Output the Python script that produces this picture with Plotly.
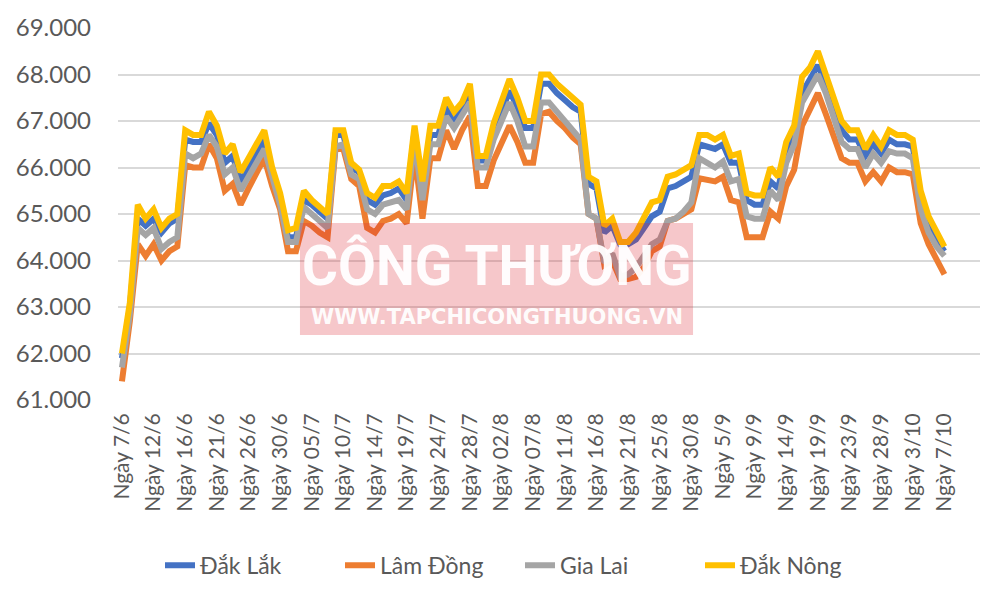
import plotly.graph_objects as go

# Trading days (2023, Sundays and 2/9 excluded)
dates = [
    "7/6", "8/6", "9/6", "10/6", "12/6", "13/6", "14/6", "15/6", "16/6", "17/6",
    "19/6", "20/6", "21/6", "22/6", "23/6", "24/6", "26/6", "27/6", "28/6", "29/6",
    "30/6", "01/7", "03/7", "04/7", "05/7", "06/7", "07/7", "08/7", "10/7", "11/7",
    "12/7", "13/7", "14/7", "15/7", "17/7", "18/7", "19/7", "20/7", "21/7", "22/7",
    "24/7", "25/7", "26/7", "27/7", "28/7", "29/7", "31/7", "01/8", "02/8", "03/8",
    "04/8", "05/8", "07/8", "08/8", "09/8", "10/8", "11/8", "12/8", "14/8", "15/8",
    "16/8", "17/8", "18/8", "19/8", "21/8", "22/8", "23/8", "24/8", "25/8", "26/8",
    "28/8", "29/8", "30/8", "31/8", "1/9", "4/9", "5/9", "6/9", "7/9", "8/9",
    "9/9", "11/9", "12/9", "13/9", "14/9", "15/9", "16/9", "18/9", "19/9", "20/9",
    "21/9", "22/9", "23/9", "25/9", "26/9", "27/9", "28/9", "29/9", "30/9", "2/10",
    "3/10", "4/10", "5/10", "6/10", "7/10",
]
categories = ["Ngày " + d for d in dates]
extra_categories = [" ", "  ", "   ", "    "]  # empty slots at the right of the axis

dak_lak = [
    61.9, 63.0, 64.9, 64.75, 64.9, 64.6, 64.8, 64.9, 66.6, 66.55,
    66.55, 66.95, 66.7, 66.1, 66.25, 65.7, 66.0, 66.3, 66.6, 65.9,
    65.3, 64.5, 64.5, 65.3, 65.2, 65.05, 64.9, 66.7, 66.7, 66.0,
    65.9, 65.3, 65.2, 65.4, 65.45, 65.55, 65.3, 66.8, 65.5, 66.7,
    66.7, 67.3, 67.0, 67.3, 67.65, 66.15, 66.15, 66.75, 67.2, 67.65,
    67.3, 66.85, 66.85, 67.8, 67.8, 67.6, 67.45, 67.3, 67.2, 65.65,
    65.55, 64.6, 64.75, 64.35, 64.35, 64.45, 64.7, 64.95, 65.05, 65.55,
    65.6, 65.7, 65.8, 66.5, 66.45, 66.4, 66.5, 66.1, 66.1, 65.3,
    65.2, 65.2, 65.7, 65.55, 66.4, 66.8, 67.6, 67.9, 68.2, 67.8,
    67.3, 66.8, 66.6, 66.6, 66.25, 66.5, 66.3, 66.6, 66.5, 66.5,
    66.45, 65.35, 64.8, 64.45, 64.2,
]
lam_dong = [
    61.4, 62.7, 64.35, 64.1, 64.35, 64.0, 64.2, 64.3, 66.05, 66.0,
    66.0, 66.5, 66.2, 65.5, 65.65, 65.2, 65.55, 65.9, 66.2, 65.6,
    65.1, 64.2, 64.2, 64.85, 64.75, 64.6, 64.5, 66.4, 66.4, 65.75,
    65.6, 64.7, 64.6, 64.85, 64.9, 65.0, 64.8, 66.3, 64.9, 66.2,
    66.2, 66.8, 66.4, 66.8, 67.1, 65.6, 65.6, 66.15, 66.5, 66.9,
    66.55, 66.1, 66.1, 67.15, 67.2, 67.0, 66.85, 66.65, 66.5, 65.0,
    64.9, 63.9, 64.0, 63.6, 63.6, 63.65, 63.85, 64.2, 64.3, 64.85,
    64.9, 65.0, 65.1, 65.77, 65.75, 65.7, 65.8, 65.3, 65.25, 64.5,
    64.5, 64.5, 65.05, 64.9, 65.6, 65.95, 66.9, 67.25, 67.6, 67.15,
    66.65, 66.2, 66.1, 66.1, 65.7, 65.9, 65.7, 66.0, 65.9, 65.9,
    65.85, 64.8, 64.35, 64.0, 63.7,
]
gia_lai = [
    61.7, 62.85, 64.7, 64.55, 64.7, 64.25, 64.4, 64.5, 66.3, 66.2,
    66.3, 66.7, 66.45, 65.85, 66.0, 65.5, 65.8, 66.1, 66.4, 65.8,
    65.2, 64.4, 64.4, 65.15, 65.0, 64.85, 64.7, 66.45, 66.5, 65.85,
    65.75, 65.1, 65.0, 65.2, 65.25, 65.3, 65.1, 66.6, 65.3, 66.5,
    66.5, 67.1, 66.85, 67.1, 67.4, 66.0, 66.0, 66.6, 67.0, 67.4,
    67.0, 66.45, 66.45, 67.4, 67.4, 67.2, 67.0, 66.8, 66.6, 65.0,
    64.9, 63.95, 64.15, 63.65, 63.7, 63.85, 64.1, 64.35, 64.45, 64.85,
    64.9, 65.05, 65.25, 66.2, 66.1, 66.0, 66.13, 65.7, 65.75, 64.95,
    64.9, 64.9, 65.5, 65.3, 66.1, 66.5, 67.4, 67.7, 68.0, 67.6,
    67.1, 66.55, 66.4, 66.4, 66.0, 66.3, 66.1, 66.35, 66.3, 66.3,
    66.2, 65.1, 64.6, 64.3, 64.1,
]
dak_nong = [
    62.0, 63.1, 65.2, 64.9, 65.1, 64.7, 64.9, 65.0, 66.8, 66.7,
    66.7, 67.2, 66.9, 66.3, 66.5, 65.9, 66.2, 66.5, 66.8, 66.0,
    65.45, 64.65, 64.7, 65.5, 65.3, 65.15, 65.0, 66.8, 66.8, 66.1,
    65.95, 65.45, 65.35, 65.6, 65.6, 65.7, 65.45, 66.9, 65.7, 66.9,
    66.9, 67.5, 67.2, 67.4, 67.8, 66.25, 66.25, 66.95, 67.4, 67.9,
    67.5, 67.0, 67.0, 68.0, 68.0, 67.8, 67.65, 67.5, 67.35, 65.8,
    65.7, 64.75, 64.9, 64.4, 64.4, 64.6, 64.9, 65.25, 65.3, 65.8,
    65.85, 65.95, 66.05, 66.7, 66.7, 66.6, 66.7, 66.25, 66.3, 65.45,
    65.4, 65.4, 66.0, 65.8, 66.55, 66.9, 67.95, 68.15, 68.5, 68.0,
    67.5, 67.0, 66.8, 66.8, 66.4, 66.7, 66.45, 66.8, 66.7, 66.7,
    66.6, 65.5, 64.95, 64.6, 64.3,
]

series_names = ["Đắk Lắk", "Lâm Đồng", "Gia Lai", "Đắk Nông"]
series_values = [dak_lak, lam_dong, gia_lai, dak_nong]
series_colors = ["#4472C4", "#ED7D31", "#A5A5A5", "#FFC000"]

y_ticks = [61000, 62000, 63000, 64000, 65000, 66000, 67000, 68000, 69000]
x_tick_labels = categories[::4]

FONT = "Lato, 'Open Sans', sans-serif"
TXT = "#595959"

fig = go.Figure()
for name, vals, col in zip(series_names, series_values, series_colors):
    fig.add_trace(go.Scatter(
        x=categories,
        y=[v * 1000 for v in vals],
        mode="lines",
        name=name,
        line=dict(color=col, width=6, shape="linear"),
    ))

fig.update_layout(
    width=1000,
    height=592,
    margin=dict(l=118, r=20, t=28, b=192),
    paper_bgcolor="white",
    plot_bgcolor="white",
    separators=",.",
    showlegend=True,
    legend=dict(
        orientation="h",
        xref="container", yref="container",
        x=0.52, xanchor="center",
        y=0.045, yanchor="middle",
        font=dict(family=FONT, size=23, color=TXT),
        entrywidth=135,
        entrywidthmode="pixels",
        traceorder="normal",
    ),
    xaxis=dict(
        type="category",
        categoryorder="array",
        categoryarray=categories + extra_categories,
        range=[-0.5, len(categories) + len(extra_categories) - 0.5],
        tickmode="array",
        tickvals=x_tick_labels,
        ticktext=x_tick_labels,
        tickangle=-90,
        tickfont=dict(family=FONT, size=21, color=TXT),
        showgrid=False,
        showline=False,
        zeroline=False,
        ticks="",
        ticklabelstandoff=8,
    ),
    yaxis=dict(
        range=[61000, 69000],
        tickmode="array",
        tickvals=y_ticks,
        tickformat=",d",
        tickfont=dict(family=FONT, size=24, color=TXT),
        showgrid=True,
        gridcolor="#D9D9D9",
        gridwidth=2,
        zeroline=False,
        showline=False,
        ticks="",
        ticklabelstandoff=26,
    ),
    shapes=[dict(
        type="rect", xref="paper", yref="paper", layer="above",
        x0=0.2111, x1=0.6671, y0=0.1747, y1=0.4758,
        fillcolor="rgba(220,40,50,0.26)", line=dict(width=0),
    )],
    annotations=[
        dict(text="<b>CÔNG THƯƠNG</b>", xref="paper", yref="paper",
             x=0.4397, y=0.36, xanchor="center", yanchor="middle", showarrow=False,
             font=dict(family="Roboto, sans-serif", size=55, weight=700,
                       color="rgba(255,255,255,0.95)")),
        dict(text="<b>WWW.TAPCHICONGTHUONG.VN</b>", xref="paper", yref="paper",
             x=0.4397, y=0.223, xanchor="center", yanchor="middle", showarrow=False,
             font=dict(family="'DejaVu Sans', sans-serif", size=21,
                       color="rgba(255,255,255,0.95)")),
    ],
)

fig.write_html("out.html")
